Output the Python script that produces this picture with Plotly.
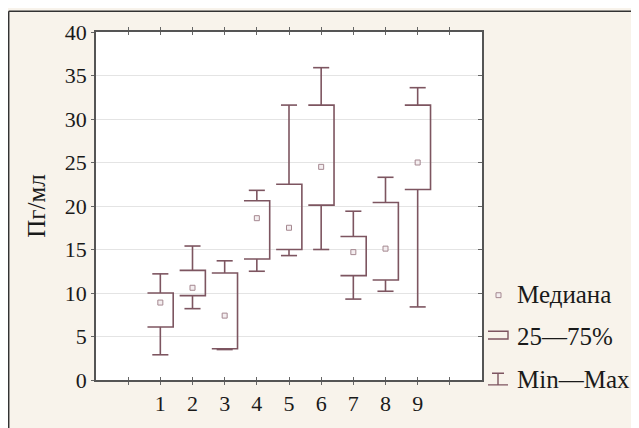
import plotly.graph_objects as go

# ---- data ----
groups = [1, 2, 3, 4, 5, 6, 7, 8, 9]
mins = [2.9, 8.2, 3.5, 12.5, 14.3, 15.0, 9.3, 10.2, 8.4]
q1 = [6.1, 9.7, 3.6, 13.9, 15.0, 20.1, 12.0, 11.5, 21.9]
medians = [8.9, 10.6, 7.4, 18.6, 17.5, 24.5, 14.7, 15.1, 25.0]
q3 = [10.0, 12.6, 12.3, 20.6, 22.5, 31.6, 16.5, 20.4, 31.6]
maxs = [12.2, 15.4, 13.7, 21.8, 31.6, 35.9, 19.4, 23.3, 33.6]
x_tickvals = [0, 1, 2, 3, 4, 5, 6, 7, 8, 9, 10]
x_ticktext = ["", "1", "2", "3", "4", "5", "6", "7", "8", "9", ""]
y_tickvals = [0, 5, 10, 15, 20, 25, 30, 35, 40]
legend_labels = ["Медиана", "25—75%", "Min—Max"]
y_title = "Пг/мл"

# ---- style ----
OFF = 8                      # page body margin
W, H = 639 - OFF, 428 - OFF
ML, MR, MT, MB = 88, 157, 22, 41
PW, PH = W - ML - MR, H - MT - MB
LINE = "#7d5560"
MED = "#a58890"
BEIGE = "#f8f3eb"
FONT = "Liberation Serif, Times New Roman, serif"
BOX_HW = 0.40
CAP_HW = 0.25

bx, by = [], []
for g, lo, hi in zip(groups, q1, q3):
    bx += [g - BOX_HW, g + BOX_HW, g + BOX_HW, g - BOX_HW, None]
    by += [hi, hi, lo, lo, None]

wx, wy = [], []
for g, mn, lo, hi, mx in zip(groups, mins, q1, q3, maxs):
    wx += [g, g, None, g - CAP_HW, g + CAP_HW, None,
           g, g, None, g - CAP_HW, g + CAP_HW, None]
    wy += [mx, hi, None, mx, mx, None,
           lo, mn, None, mn, mn, None]

fig = go.Figure()
fig.add_trace(go.Scatter(x=wx, y=wy, mode="lines",
                         line=dict(color=LINE, width=1.6),
                         hoverinfo="skip", showlegend=False))
fig.add_trace(go.Scatter(x=bx, y=by, mode="lines",
                         line=dict(color=LINE, width=1.6),
                         hoverinfo="skip", showlegend=False))
fig.add_trace(go.Scatter(x=groups, y=medians, mode="markers",
                         marker=dict(symbol="square", size=5, color="#f4eef0",
                                     line=dict(color=MED, width=1)),
                         showlegend=False))
# invisible trace on the right axis so its ticks show
fig.add_trace(go.Scatter(x=[groups[0]], y=[medians[0]], yaxis="y2",
                         mode="markers", marker=dict(opacity=0),
                         hoverinfo="skip", showlegend=False))


def px_x(p):
    # screenshot pixel -> paper
    return (p - OFF - ML) / PW


def px_y(p):
    return (H - MB - (p - OFF)) / PH


shapes = [
    dict(type="line", xref="paper", yref="paper", x0=px_x(8.7), x1=px_x(650),
         y0=px_y(8.7), y1=px_y(8.7), line=dict(color="#333333", width=1.5)),
    dict(type="line", xref="paper", yref="paper", x0=px_x(8.7), x1=px_x(8.7),
         y0=px_y(8.7), y1=px_y(440), line=dict(color="#333333", width=1.5)),
    # legend icons
    dict(type="rect", xref="paper", yref="paper", x0=px_x(496), x1=px_x(501),
         y0=px_y(302.5), y1=px_y(297.5), fillcolor="#f4eef0",
         line=dict(color=MED, width=1)),
    dict(type="path", xref="paper", yref="paper",
         path="M %f %f L %f %f L %f %f L %f %f" % (
             px_x(488), px_y(337), px_x(508), px_y(337),
             px_x(508), px_y(345), px_x(488), px_y(345)),
         line=dict(color=LINE, width=1.4)),
    dict(type="path", xref="paper", yref="paper",
         path="M %f %f L %f %f M %f %f L %f %f M %f %f L %f %f" % (
             px_x(492), px_y(380), px_x(504), px_y(380),
             px_x(498), px_y(380), px_x(498), px_y(392),
             px_x(488), px_y(392), px_x(508), px_y(392)),
         line=dict(color=LINE, width=1.4)),
]

annotations = []
for lab, yy in zip(legend_labels, [299, 342, 386]):
    annotations.append(dict(text=lab, xref="paper", yref="paper",
                            x=px_x(515), y=px_y(yy), xanchor="left",
                            yanchor="middle", showarrow=False,
                            font=dict(family=FONT, size=25, color="#1a1a1a")))

fig.update_layout(
    width=W, height=H,
    margin=dict(l=ML, r=MR, t=MT, b=MB),
    paper_bgcolor=BEIGE, plot_bgcolor="white",
    font=dict(family=FONT, size=22, color="#1a1a1a"),
    shapes=shapes, annotations=annotations,
    xaxis=dict(range=[-1, 11], tickvals=x_tickvals, ticktext=x_ticktext,
               showgrid=False, zeroline=False, showline=True, linecolor="#555555",
               linewidth=1.5, mirror="allticks", ticks="inside", ticklen=3,
               tickcolor="#666666", tickfont=dict(family=FONT, size=22),
               ticklabelstandoff=3),
    yaxis=dict(range=[0, 40], tickvals=y_tickvals, showgrid=True,
               gridcolor="#e4e4e4", gridwidth=1, zeroline=False, showline=True,
               linecolor="#555555", linewidth=1.5, mirror=True, ticks="outside",
               ticklen=3, tickcolor="#666666",
               tickfont=dict(family=FONT, size=22),
               title=dict(text=y_title, font=dict(family=FONT, size=25),
                          standoff=12)),
    yaxis2=dict(range=[0, 40], tickvals=y_tickvals, overlaying="y", side="right",
                showgrid=False, zeroline=False, showticklabels=False,
                ticks="inside", ticklen=4, tickcolor="#666666", showline=False),
)

fig.write_html("out.html")
